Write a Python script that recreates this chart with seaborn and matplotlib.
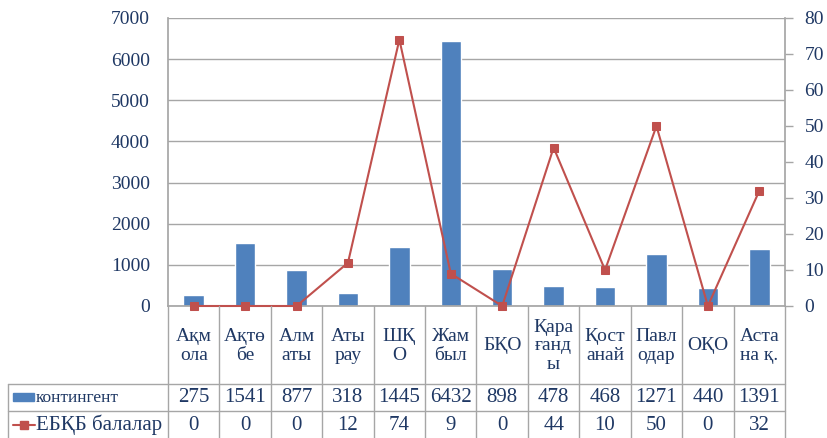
import numpy as np
import pandas as pd
import matplotlib
matplotlib.use("Agg")
import matplotlib.pyplot as plt
import matplotlib.transforms as mtransforms
from matplotlib.lines import Line2D
from matplotlib.patches import Rectangle
import seaborn as sns

# ---- data ----
categories = ["Ақм\nола", "Ақтө\nбе", "Алм\naты", "Аты\nрау", "ШҚ\nО", "Жам\nбыл",
              "БҚО", "Қара\nғанд\nы", "Қост\nанай", "Павл\nодар", "ОҚО", "Аста\nна қ."]
kontingent = [275, 1541, 877, 318, 1445, 6432, 898, 478, 468, 1271, 440, 1391]
ebkb = [0, 0, 0, 12, 74, 9, 0, 44, 10, 50, 0, 32]
series_names = ["контингент", "ЕБҚБ балалар"]
left_ticks = [0, 1000, 2000, 3000, 4000, 5000, 6000, 7000]
right_ticks = [0, 10, 20, 30, 40, 50, 60, 70, 80]

BAR = "#4F81BD"
LINE = "#C0504D"
TXT = "#1F3864"
GRID = "#A6A6A6"

sns.set_theme(style="white")
plt.rcParams["font.family"] = ["Liberation Serif", "DejaVu Serif"]

W, H = 828, 438
fig = plt.figure(figsize=(W / 100, H / 100), dpi=100)
L, R, T, B = 168, 785, 18, 306
ax = fig.add_axes([L / W, 1 - B / H, (R - L) / W, (B - T) / H])

df = pd.DataFrame({"cat": categories, "kontingent": kontingent, "ebkb": ebkb})
df["pos"] = np.arange(len(df))

sns.barplot(data=df, x="cat", y="kontingent", color=BAR, width=0.4,
            saturation=1, ax=ax, zorder=2)
ax.set_xlim(-0.5, len(df) - 0.5)
ax.set_ylim(0, 7000)
ax.set_yticks(left_ticks)
ax.set_xlabel("")
ax.set_ylabel("")
ax.set_xticklabels([])
ax.tick_params(axis="x", length=0)
ax.tick_params(axis="y", length=0, pad=13, labelsize=14, labelcolor=TXT)
ax.yaxis.grid(True, color=GRID, linewidth=1)
ax.set_axisbelow(True)
for s in ["top", "right"]:
    ax.spines[s].set_visible(False)
ax.spines["left"].set_color(GRID)
ax.spines["bottom"].set_color(GRID)

ax2 = ax.twinx()
sns.lineplot(data=df, x="pos", y="ebkb", color=LINE, marker="s", markersize=6,
             markeredgecolor=LINE, linewidth=1.5, ax=ax2, zorder=3, clip_on=False)
ax2.set_ylim(0, 80)
ax2.set_xlim(-0.5, len(df) - 0.5)
ax2.set_yticks(right_ticks)
ax2.set_xlabel("")
ax2.set_ylabel("")
ax2.grid(False)
ax2.tick_params(axis="y", length=6, width=1, color=GRID, direction="out",
                pad=8, labelsize=14, labelcolor=TXT, right=True, left=False)
for s in ["top", "left", "bottom"]:
    ax2.spines[s].set_visible(False)
ax2.spines["right"].set_color(GRID)

# ---- data table below the plot ----
def fy(px):
    return 1 - px / H

def fx(px):
    return px / W

bt = mtransforms.blended_transform_factory(ax.transData, fig.transFigure)
n = len(df)
for i in range(n + 1):
    fig.add_artist(Line2D([i - 0.5, i - 0.5], [fy(B), fy(H + 2)], transform=bt,
                          color=GRID, linewidth=1))
fig.add_artist(Line2D([fx(8), fx(8)], [fy(384), fy(H + 2)], transform=fig.transFigure,
                      color=GRID, linewidth=1))
for yy in [384, 411]:
    fig.add_artist(Line2D([fx(8), fx(R)], [fy(yy), fy(yy)], transform=fig.transFigure,
                          color=GRID, linewidth=1))

for i, c in enumerate(categories):
    fig.text(i, fy(346), c, transform=bt, ha="center", va="center",
             fontsize=14, color=TXT, linespacing=1.15)
    fig.text(i, fy(398), str(kontingent[i]), transform=bt, ha="center", va="center",
             fontsize=15, color=TXT)
    fig.text(i, fy(425), str(ebkb[i]), transform=bt, ha="center", va="center",
             fontsize=15, color=TXT)

# row labels with legend keys
fig.add_artist(Rectangle((fx(13), fy(401)), fx(34) - fx(13), fy(393) - fy(401),
                         transform=fig.transFigure, color=BAR))
fig.text(fx(36), fy(398), series_names[0], ha="left", va="center", fontsize=12.5, color=TXT)
fig.add_artist(Line2D([fx(13), fx(24), fx(35)], [fy(425)] * 3, transform=fig.transFigure,
                      color=LINE, linewidth=1.5, marker="s", markersize=6,
                      markevery=[1], markeredgecolor=LINE))
fig.text(fx(36), fy(425), series_names[1], ha="left", va="center", fontsize=15, color=TXT)

fig.savefig("out.png", dpi=100)
